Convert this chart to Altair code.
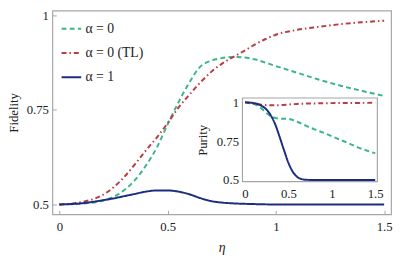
import altair as alt
import pandas as pd

FONT = "Liberation Serif"
SERIES = ["α = 0", "α = 0 (TL)", "α = 1"]
COLORS = ["#3bb58a", "#b83c40", "#1c2d80"]
DASHES = [[5, 3.3], [5, 3, 1.5, 3], [1, 0]]

# ---- main panel: Fidelity vs eta ----
eta_green = [0, 0.1, 0.2, 0.25, 0.3, 0.35, 0.4, 0.45, 0.5, 0.55, 0.6, 0.65, 0.7, 0.75,
             0.8, 0.85, 0.9, 1.0, 1.1, 1.2, 1.3, 1.4, 1.5]
fid_green = [0.5, 0.502, 0.51, 0.52, 0.538, 0.565, 0.603, 0.65, 0.712, 0.77, 0.822, 0.864,
             0.88, 0.887, 0.89, 0.889, 0.884, 0.866, 0.848, 0.83, 0.814, 0.8, 0.787]

eta_red = [0, 0.1, 0.2, 0.25, 0.3, 0.35, 0.4, 0.45, 0.5, 0.55, 0.6, 0.65, 0.7, 0.75,
           0.8, 0.85, 0.9, 0.95, 1.0, 1.1, 1.2, 1.3, 1.4, 1.5]
fid_red = [0.5, 0.506, 0.525, 0.545, 0.573, 0.607, 0.643, 0.677, 0.715, 0.756, 0.79, 0.822,
           0.85, 0.872, 0.889, 0.905, 0.922, 0.937, 0.949, 0.962, 0.97, 0.977, 0.982, 0.986]

eta_blue = [0, 0.1, 0.2, 0.25, 0.3, 0.35, 0.4, 0.45, 0.5, 0.55, 0.6, 0.65, 0.7, 0.75,
            0.8, 0.9, 1.0, 1.5]
fid_blue = [0.5, 0.503, 0.511, 0.516, 0.522, 0.528, 0.534, 0.537, 0.537, 0.534, 0.527,
            0.517, 0.509, 0.505, 0.503, 0.501, 0.5, 0.5]

# ---- inset: Purity vs eta ----
ieta_green = [0, 0.1, 0.2, 0.26, 0.3, 0.4, 0.5, 0.6, 0.7, 0.8, 0.9, 1.0, 1.1, 1.2, 1.3, 1.4, 1.5]
pur_green = [1.0, 0.99, 0.955, 0.925, 0.91, 0.895, 0.893, 0.875, 0.85, 0.826, 0.805, 0.782,
             0.758, 0.735, 0.71, 0.69, 0.672]

ieta_red = [0, 0.1, 0.2, 0.3, 0.4, 0.5, 0.6, 0.8, 1.0, 1.2, 1.5]
pur_red = [1.0, 0.99, 0.984, 0.981, 0.982, 0.986, 0.99, 0.993, 0.995, 0.996, 0.997]

ieta_blue = [0, 0.1, 0.19, 0.25, 0.3, 0.35, 0.4, 0.45, 0.5, 0.55, 0.6, 0.65, 0.7, 0.8, 1.0, 1.5]
pur_blue = [1.0, 0.995, 0.978, 0.952, 0.913, 0.855, 0.775, 0.69, 0.61, 0.553, 0.52, 0.506,
            0.501, 0.5, 0.5, 0.5]


def frame(xs, ys, name):
    return pd.DataFrame({"eta": xs, "value": ys, "series": name})


main_df = pd.concat([frame(eta_green, fid_green, SERIES[0]),
                     frame(eta_red, fid_red, SERIES[1]),
                     frame(eta_blue, fid_blue, SERIES[2])])
inset_df = pd.concat([frame(ieta_green, pur_green, SERIES[0]),
                      frame(ieta_red, pur_red, SERIES[1]),
                      frame(ieta_blue, pur_blue, SERIES[2])])

# inset frame in inset data coordinates
ix0, ix1 = -0.03, 1.525
iy0, iy1 = 0.489, 1.028
box_df = pd.DataFrame({"x": [ix0], "x2": [ix1], "y": [iy0], "y2": [iy1]})

W, H = 345.7, 208
GRAY = "#a6a6a6"

legend = alt.Legend(title=None, orient="none", legendX=8.4, legendY=7.6,
                    symbolType="stroke", symbolSize=400, symbolStrokeWidth=2,
                    labelFont=FONT, labelFontSize=14, labelColor="#222",
                    rowPadding=6.8, labelOffset=3.3, padding=0)
color = alt.Color("series:N", scale=alt.Scale(domain=SERIES, range=COLORS), legend=legend)
dash = alt.StrokeDash("series:N", scale=alt.Scale(domain=SERIES, range=DASHES), legend=legend)

main = alt.Chart(main_df).mark_line(strokeWidth=2, interpolate="monotone").encode(
    x=alt.X("eta:Q", scale=alt.Scale(domain=[-0.032, 1.532], nice=False, zero=False),
            axis=alt.Axis(values=[0, 0.5, 1, 1.5], format=".2~f", orient="bottom",
                          offset=-4, tickSize=4, labelPadding=7, title="η",
                          titleFontStyle="italic", titleFontSize=14, titlePadding=7)),
    y=alt.Y("value:Q", scale=alt.Scale(domain=[0.474, 1.013], nice=False, zero=False),
            axis=alt.Axis(values=[0.5, 0.75, 1], format=".2~f", orient="left",
                          offset=-4, tickSize=4, labelPadding=4, title="Fidelity",
                          titlePadding=6)),
    color=color,
    strokeDash=dash,
)

ixs = alt.Scale(domain=[ix0, ix1], range=[194, 331.7], nice=False, zero=False)
iys = alt.Scale(domain=[iy0, iy1], range=[174.7, 89.3], nice=False, zero=False)
ix_axis = alt.Axis(values=[0, 0.5, 1, 1.5], format=".2~f", orient="bottom",
                   offset=-37.3, tickSize=4, labelPadding=6.5, title=None)
iy_axis = alt.Axis(values=[0.5, 0.75, 1], format=".2~f", orient="left",
                   offset=-198, tickSize=4, labelPadding=4, title="Purity", titlePadding=7)

box = alt.Chart(box_df).mark_rect(fill="white", stroke=GRAY, strokeWidth=1.2).encode(
    x=alt.X("x:Q", scale=ixs, axis=ix_axis),
    x2="x2:Q",
    y=alt.Y("y:Q", scale=iys, axis=iy_axis),
    y2="y2:Q",
)

inset_lines = alt.Chart(inset_df).mark_line(strokeWidth=2, interpolate="monotone").encode(
    x=alt.X("eta:Q", scale=ixs, axis=ix_axis),
    y=alt.Y("value:Q", scale=iys, axis=iy_axis),
    color=color,
    strokeDash=dash,
)

inset = alt.layer(box, inset_lines)

chart = alt.layer(main, inset).resolve_scale(
    x="independent", y="independent"
).properties(
    width=W, height=H,
    autosize=alt.AutoSizeParams(type="none"),
    padding={"left": 45.3, "top": 0, "right": 4, "bottom": 40},
).configure_view(
    stroke=GRAY, strokeWidth=1.2
).configure_axis(
    grid=False, domain=False, labelFont=FONT, labelFontSize=13, labelColor="#222",
    titleFont=FONT, titleFontSize=13, titleFontWeight="normal", titleColor="#222",
    tickColor=GRAY, tickWidth=1,
)

chart.save("out.html", embed_options={"renderer": "svg", "actions": False})
